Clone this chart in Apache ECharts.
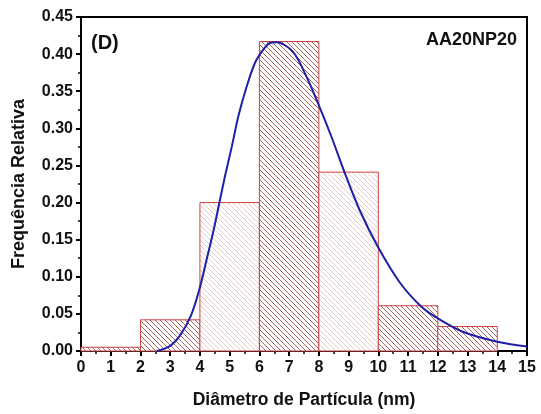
<!DOCTYPE html>
<html>
<head>
    <meta charset="utf-8">
    <title>Distribuição de tamanho - AA20NP20</title>
    <script src="https://cdn.jsdelivr.net/npm/echarts@6/dist/echarts.min.js"></script>
</head>
<body style="margin:0">
    <div id="main" style="width:541px;height:414px;"></div>
    <script type="text/javascript">
        // histograma: limites das classes (nm) e frequência relativa
        var binStart = [0, 2, 4, 6, 8, 10, 12];
        var binEnd = [2, 4, 6, 8, 10, 12, 14];
        var freq = [0.005, 0.042, 0.200, 0.417, 0.241, 0.061, 0.033];
        // classes com hachura mais clara na figura
        var lightBins = [2, 4];

        // curva de ajuste
        var fitX = [2.55, 3.0, 3.35, 3.70, 3.98, 4.23, 4.45, 4.64, 4.84, 5.07, 5.29, 5.57, 5.85, 6.13, 6.35, 6.58, 7.13, 7.58, 8.0, 8.42, 8.87, 9.37, 9.99, 10.71, 11.44, 12.0, 12.84, 14.0, 15.0];
        var fitY = [0.000, 0.007, 0.022, 0.048, 0.083, 0.124, 0.161, 0.197, 0.235, 0.275, 0.316, 0.356, 0.388, 0.406, 0.415, 0.416, 0.403, 0.370, 0.331, 0.289, 0.240, 0.190, 0.140, 0.093, 0.060, 0.044, 0.026, 0.0125, 0.006];

        var xTicks = [0, 15, 1];
        var yTicks = [0, 0.45, 0.05];

        var FONT = 'Arial, "Liberation Sans", sans-serif';

        // padrão de hachura diagonal
        function hatch(color) {
            var s = 5;
            var c = document.createElement('canvas');
            c.width = s; c.height = s;
            var ctx = c.getContext('2d');
            ctx.fillStyle = '#ffffff';
            ctx.fillRect(0, 0, s, s);
            ctx.strokeStyle = color;
            ctx.lineWidth = 1;
            for (var k = -1; k <= 1; k++) {
                ctx.beginPath();
                ctx.moveTo(k * s, 0);
                ctx.lineTo(k * s + s, s);
                ctx.stroke();
            }
            return { image: c, repeat: 'repeat' };
        }
        var darkHatch = hatch('#a66464');
        var lightHatch = hatch('#e6cccc');

        var histData = binStart.map(function (b, i) {
            return [b, binEnd[i], freq[i], i];
        });
        var fitData = fitX.map(function (x, i) { return [x, fitY[i]]; });

        var myChart = echarts.init(document.getElementById('main'));

        var option = {
            animation: false,
            grid: {
                left: 81, right: 14, top: 17, bottom: 63,
                show: true, borderColor: '#000', borderWidth: 2
            },
            xAxis: {
                type: 'value',
                min: xTicks[0], max: xTicks[1], interval: xTicks[2],
                name: 'Diâmetro de Partícula (nm)',
                nameLocation: 'middle', nameGap: 40,
                nameTextStyle: { fontFamily: FONT, fontWeight: 'bold', fontSize: 17.5, color: '#111' },
                axisLine: { lineStyle: { color: '#000', width: 2 } },
                axisTick: { length: 5, lineStyle: { color: '#000', width: 2 } },
                minorTick: { show: true, splitNumber: 2, length: 3, lineStyle: { color: '#000', width: 1.5 } },
                axisLabel: { fontFamily: FONT, fontWeight: 'bold', fontSize: 16, color: '#111', margin: 9 },
                splitLine: { show: false }
            },
            yAxis: {
                type: 'value',
                min: yTicks[0], max: yTicks[1], interval: yTicks[2],
                name: 'Frequência Relativa',
                nameLocation: 'middle', nameGap: 53,
                nameTextStyle: { fontFamily: FONT, fontWeight: 'bold', fontSize: 18, color: '#111' },
                axisLine: { show: true, lineStyle: { color: '#000', width: 2 } },
                axisTick: { show: true, length: 5, lineStyle: { color: '#000', width: 2 } },
                minorTick: { show: true, splitNumber: 2, length: 3, lineStyle: { color: '#000', width: 1.5 } },
                axisLabel: {
                    fontFamily: FONT, fontWeight: 'bold', fontSize: 16, color: '#111', margin: 8,
                    formatter: function (v) { return v.toFixed(2); }
                },
                splitLine: { show: false }
            },
            graphic: [
                { type: 'text', left: 91, top: 33, style: { text: '(D)', font: 'bold 20px ' + FONT, fill: '#111' } },
                { type: 'text', right: 24, top: 31, style: { text: 'AA20NP20', font: 'bold 18px ' + FONT, fill: '#111' } }
            ],
            series: [
                {
                    type: 'custom',
                    data: histData,
                    encode: { x: [0, 1], y: 2 },
                    renderItem: function (params, api) {
                        var p0 = api.coord([api.value(0), api.value(2)]);
                        var p1 = api.coord([api.value(1), 0]);
                        var light = lightBins.indexOf(api.value(3)) >= 0;
                        return {
                            type: 'rect',
                            shape: { x: p0[0], y: p0[1], width: p1[0] - p0[0], height: p1[1] - p0[1] },
                            style: { fill: light ? lightHatch : darkHatch, stroke: '#cc4444', lineWidth: 1 }
                        };
                    },
                    z: 2
                },
                {
                    type: 'line',
                    data: fitData,
                    smooth: 0.3,
                    showSymbol: false,
                    lineStyle: { color: '#1f1fa8', width: 2 },
                    z: 3
                }
            ]
        };
        myChart.setOption(option);
    </script>
</body>
</html>
